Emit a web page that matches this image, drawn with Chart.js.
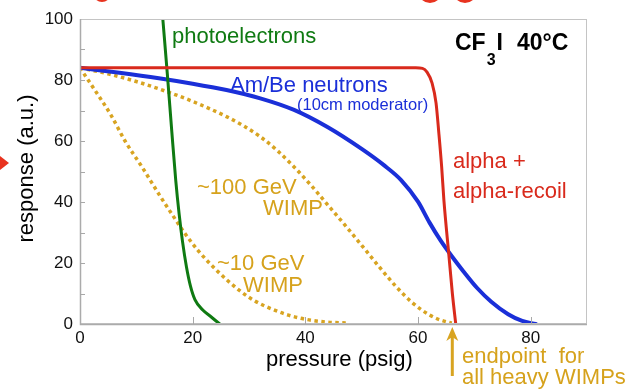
<!DOCTYPE html>
<html>
<head>
<meta charset="utf-8">
<script src="https://cdn.jsdelivr.net/npm/chart.js@4.4.0/dist/chart.umd.min.js"></script>
<style>
  html, body { margin: 0; padding: 0; background: #fff; overflow: hidden; }
  #wrap { width: 639px; height: 389px; }
</style>
</head>
<body>
<div id="wrap"><canvas id="c" width="639" height="389"></canvas></div>
<script>
// Bubble-chamber response of CF3I at 40°C versus operating pressure.
const alphaPressure    = [0, 30, 59.6, 60.8, 61.6, 62.5, 63.2, 63.7, 64.2, 64.6, 65.5, 66.1, 66.7];
const alphaResponse    = [84, 84, 84, 83.8, 82.6, 79, 72.5, 62.6, 51.5, 40.5, 22.2, 10, 0];

const photoPressure    = [14.7, 15.5, 16.3, 17.0, 17.6, 18.2, 18.9, 19.6, 20.4, 21.8, 23.3, 24.8];
const photoResponse    = [100, 82, 63, 47, 36, 27, 18.7, 12.5, 8, 4.6, 2.3, 0];

const neutronPressure  = [0, 7, 14, 20, 26, 32, 38, 44, 50, 54, 57, 60, 62, 64, 66, 68, 70.5, 73, 76, 78.5, 80.9];
const neutronResponse  = [84, 82.4, 80.6, 78.8, 76.7, 74.0, 70.2, 64.5, 57.4, 52.0, 47.2, 40.1, 33.4, 27.4, 22.2, 17.4, 11.8, 7.3, 3.2, 1.0, 0];

const wimp100Pressure  = [0, 5, 10, 15.4, 20.1, 26, 29, 32, 35, 38, 41, 44, 47, 50, 53, 56, 59, 62, 64, 66];
const wimp100Response  = [84, 82, 79.5, 76.2, 72.9, 68, 65, 61.4, 56.9, 51.5, 45.5, 39, 32.5, 25.8, 19, 12.5, 7, 3, 1.3, 0.3];

const wimp10Pressure   = [0, 2.7, 5.5, 8, 11, 14.2, 16.5, 18.5, 21, 24.2, 28.3, 31, 34.2, 37, 40.2, 44, 47.8];
const wimp10Response   = [84, 76.5, 68.5, 60, 51.5, 42, 35.5, 30, 24, 17.7, 11, 7.6, 4.8, 2.9, 1.5, 0.6, 0.3];

const xTickValues      = [0, 20, 40, 60, 80];
const yTickValues      = [0, 20, 40, 60, 80, 100];
const xMarkValues      = [20, 40, 60, 80];
const yMarkValues      = [10, 20, 30, 40, 50, 60, 70, 80, 90];
const heavyEndpoint    = 66;   // psig, where every heavy-WIMP curve reaches zero

const RED = '#d92a1c', GREEN = '#0f7a12', BLUE = '#1a2fd8', GOLD = '#d8a421', GOLD_TEXT = '#d6a21c';
const FONT = "'Liberation Sans', Arial, Helvetica, sans-serif";

const pts = (xs, ys) => xs.map((x, i) => ({ x, y: ys[i] }));

const curve = (label, xs, ys, color, width, dash) => ({
  label,
  data: pts(xs, ys),
  borderColor: color,
  borderWidth: width,
  borderDash: dash || [],
  borderCapStyle: dash ? 'butt' : 'round',
  pointRadius: 0,
  cubicInterpolationMode: 'monotone',
  fill: false
});

const decorations = {
  id: 'decorations',
  beforeDraw(chart) {
    const c = chart.ctx;
    c.save();
    c.fillStyle = '#fff';
    c.fillRect(0, 0, chart.width, chart.height);
    c.restore();
  },
  afterDraw(chart) {
    const c = chart.ctx;
    const { left, right, top, bottom } = chart.chartArea;
    const xs = chart.scales.x, ys = chart.scales.y;
    c.save();

    // plot frame
    c.strokeStyle = '#c4c4c4';
    c.lineWidth = 1;
    c.strokeRect(left + 0.5, top + 0.5, right - left - 1, bottom - top - 1);
    c.strokeStyle = '#ababab';
    c.lineWidth = 1.5;
    c.beginPath();
    c.moveTo(left + 0.5, top); c.lineTo(left + 0.5, bottom + 0.5); c.lineTo(right, bottom + 0.5);
    c.stroke();

    // inward tick marks
    c.lineWidth = 1;
    c.strokeStyle = '#a8a8a8';
    c.beginPath();
    yMarkValues.forEach(v => { const y = Math.round(ys.getPixelForValue(v)) + 0.5; c.moveTo(left, y); c.lineTo(left + 5, y); });
    xMarkValues.forEach(v => { const x = Math.round(xs.getPixelForValue(v)) + 0.5; c.moveTo(x, bottom); c.lineTo(x, bottom - 7); });
    c.stroke();

    const text = (s, x, y, color, size, weight) => {
      c.font = (weight || '') + ' ' + size + 'px ' + FONT;
      c.fillStyle = color;
      c.textAlign = 'left';
      c.textBaseline = 'alphabetic';
      c.fillText(s, x, y);
      return c.measureText(s).width;
    };

    // curve labels
    text('photoelectrons', 172, 43, GREEN, 22);
    text('Am/Be neutrons', 230, 92, BLUE, 22);
    text('(10cm moderator)', 297, 110, BLUE, 16.5);
    text('alpha +', 453, 168, RED, 22);
    text('alpha-recoil', 453, 198, RED, 22);
    text('~100 GeV', 197, 194, GOLD_TEXT, 22);
    text('WIMP', 263, 215, GOLD_TEXT, 22);
    text('~10 GeV', 217, 270, GOLD_TEXT, 22);
    text('WIMP', 243, 292, GOLD_TEXT, 22);
    text('endpoint  for', 462, 363, GOLD_TEXT, 22);
    text('all heavy WIMPs', 462, 384, GOLD_TEXT, 22);

    // target / temperature tag
    let x = 455;
    x += text('CF', x, 50, '#000', 23, 'bold');
    x += text('3', x + 1, 65, '#000', 16, 'bold') + 2;
    x += text('I', x, 50, '#000', 23, 'bold');
    text('40°C', x + 14, 50, '#000', 23, 'bold');

    // axis titles
    text('pressure (psig)', 266, 366, '#000', 22);
    c.save();
    c.translate(33, 168.5);
    c.rotate(-Math.PI / 2);
    c.font = '22px ' + FONT;
    c.fillStyle = '#000';
    c.textAlign = 'center';
    c.fillText('response (a.u.)', 0, 0);
    c.restore();

    // arrow marking the heavy-WIMP endpoint
    const ax = xs.getPixelForValue(heavyEndpoint) + 0.5;
    c.strokeStyle = GOLD;
    c.fillStyle = GOLD;
    c.lineWidth = 3;
    c.beginPath();
    c.moveTo(ax, 336); c.lineTo(ax, 376);
    c.stroke();
    c.beginPath();
    c.moveTo(ax, 327); c.lineTo(ax - 6, 341); c.lineTo(ax, 337); c.lineTo(ax + 6, 341); c.closePath();
    c.fill();

    // slide accents at the edges
    c.fillStyle = '#e8331f';
    c.beginPath(); c.moveTo(0, 156); c.lineTo(9, 163); c.lineTo(0, 170); c.closePath(); c.fill();
    c.strokeStyle = '#e8331f';
    c.lineWidth = 4;
    [[102, -7, 7], [430, -9, 10], [465, -9, 10]].forEach(([cx, cy, r]) => {
      c.beginPath(); c.arc(cx, cy, r, 0, Math.PI); c.stroke();
    });

    c.restore();
  }
};

new Chart(document.getElementById('c'), {
  type: 'line',
  data: {
    datasets: [
      curve('alpha + alpha-recoil', alphaPressure, alphaResponse, RED, 3),
      curve('photoelectrons', photoPressure, photoResponse, GREEN, 3),
      curve('Am/Be neutrons', neutronPressure, neutronResponse, BLUE, 4),
      curve('~100 GeV WIMP', wimp100Pressure, wimp100Response, GOLD, 3.5, [3.5, 3.5]),
      curve('~10 GeV WIMP', wimp10Pressure, wimp10Response, GOLD, 3.5, [3.5, 3.5])
    ]
  },
  options: {
    responsive: false,
    animation: false,
    devicePixelRatio: 1,
    layout: { padding: { top: 19, right: 52, left: 0, bottom: 0 } },
    plugins: { legend: { display: false }, tooltip: { enabled: false } },
    scales: {
      x: {
        type: 'linear',
        min: 0, max: 90,
        afterBuildTicks: s => { s.ticks = xTickValues.map(v => ({ value: v })); },
        afterFit: s => { s.height = 65; },
        grid: { display: false, drawTicks: false },
        border: { display: false },
        ticks: { font: { family: FONT, size: 17 }, color: '#111', padding: 4, maxRotation: 0, autoSkip: false }
      },
      y: {
        type: 'linear',
        min: 0, max: 100,
        afterBuildTicks: s => { s.ticks = yTickValues.map(v => ({ value: v })); },
        afterFit: s => { s.width = 80; },
        grid: { display: false, drawTicks: false },
        border: { display: false },
        ticks: { font: { family: FONT, size: 17 }, color: '#111', padding: 7, autoSkip: false }
      }
    }
  },
  plugins: [decorations]
});
</script>
</body>
</html>
